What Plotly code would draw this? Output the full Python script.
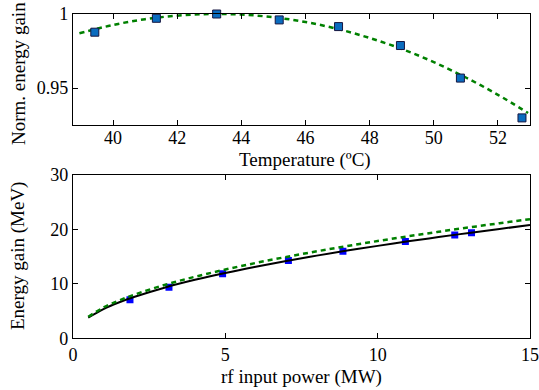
import plotly.graph_objects as go

# ---- top panel data ----
temp_pts = [39.43, 41.35, 43.23, 45.18, 47.03, 48.96, 50.83, 52.75]
gain_norm_pts = [0.9877, 0.9971, 1.0, 0.9960, 0.9915, 0.9787, 0.9567, 0.9298]
temp_fit = [38.95, 40, 41, 42, 43, 44, 45, 46, 47, 48, 49, 50, 51, 52, 52.94]
gain_norm_fit = [0.9870, 0.9926, 0.9965, 0.9989, 1.0, 0.9996, 0.9978, 0.9946,
                 0.9899, 0.9838, 0.9764, 0.9675, 0.9571, 0.9454, 0.9331]

# ---- bottom panel data ----
power_pts = [1.87, 3.15, 4.91, 7.07, 8.86, 10.91, 12.53, 13.08]
energy_pts = [7.09, 9.37, 11.85, 14.3, 16.0, 17.8, 19.0, 19.4]
power_fit = [0.5, 1, 1.5, 2, 3, 4, 5, 6, 7, 8, 9, 10, 11, 12, 13, 14, 15]
energy_fit_solid = [3.80, 5.37, 6.58, 7.59, 9.30, 10.74, 12.01, 13.15, 14.21,
                    15.19, 16.11, 16.98, 17.81, 18.60, 19.36, 20.09, 20.80]
energy_fit_dash = [3.95, 5.65, 6.92, 7.99, 9.79, 11.30, 12.63, 13.84, 14.95,
                   15.98, 16.95, 17.87, 18.74, 19.57, 20.37, 21.14, 21.88]

FONT = "Liberation Serif, Times New Roman, serif"
GREEN = "#008000"

fig = go.Figure()
fig.add_trace(go.Scatter(x=temp_fit, y=gain_norm_fit, mode="lines", line_shape="spline",
                         line=dict(color=GREEN, width=2.5, dash="5px,4px"),
                         xaxis="x", yaxis="y", showlegend=False))
fig.add_trace(go.Scatter(x=temp_pts, y=gain_norm_pts, mode="markers",
                         marker=dict(symbol="square", size=8, color="#0a6cbf",
                                     line=dict(color="#161640", width=1)),
                         cliponaxis=False, xaxis="x", yaxis="y", showlegend=False))

fig.add_trace(go.Scatter(x=power_pts, y=energy_pts, mode="markers",
                         marker=dict(symbol="square", size=7, color="#0000ff",
                                     line=dict(width=0)),
                         xaxis="x2", yaxis="y2", showlegend=False))
fig.add_trace(go.Scatter(x=power_fit, y=energy_fit_solid, mode="lines", line_shape="spline",
                         line=dict(color="black", width=2),
                         xaxis="x2", yaxis="y2", showlegend=False))
fig.add_trace(go.Scatter(x=power_fit, y=energy_fit_dash, mode="lines", line_shape="spline",
                         line=dict(color=GREEN, width=2.5, dash="5px,4px"),
                         xaxis="x2", yaxis="y2", showlegend=False))

W, H = 539, 390
xdom = [73 / W, 530 / W]
axis_common = dict(showline=True, linecolor="black", linewidth=1.2, mirror="allticks",
                   ticks="inside", ticklen=5, tickwidth=1, tickcolor="black",
                   showgrid=False, zeroline=False, automargin=False,
                   tickfont=dict(family=FONT, size=18, color="black"))

fig.update_layout(
    width=W, height=H, margin=dict(l=0, r=0, t=0, b=0),
    paper_bgcolor="white", plot_bgcolor="white",
    xaxis=dict(domain=xdom, range=[38.75, 53], tickvals=[40, 42, 44, 46, 48, 50, 52],
               anchor="y", ticklabelstandoff=-4, **axis_common),
    yaxis=dict(domain=[1 - 125 / H, 1 - 14 / H], range=[0.925, 1.0],
               tickvals=[0.95, 1.0], ticktext=["0.95", "1"], anchor="x", **axis_common),
    xaxis2=dict(domain=xdom, range=[0, 15], tickvals=[0, 5, 10, 15],
                anchor="y2", **axis_common),
    yaxis2=dict(domain=[1 - 338.3 / H, 1 - 175 / H], range=[0, 30],
                tickvals=[0, 10, 20, 30], anchor="x2", **axis_common),
    annotations=[
        dict(text="Temperature (ºC)", x=305 / W, y=1 - 160 / H, xref="paper", yref="paper",
             showarrow=False, xanchor="center", yanchor="middle",
             font=dict(family=FONT, size=19, color="black")),
        dict(text="Norm. energy gain", x=18 / W, y=1 - 74 / H, xref="paper", yref="paper",
             showarrow=False, xanchor="center", yanchor="middle", textangle=-90,
             font=dict(family=FONT, size=19, color="black")),
        dict(text="Energy gain (MeV)", x=18 / W, y=1 - 256 / H, xref="paper", yref="paper",
             showarrow=False, xanchor="center", yanchor="middle", textangle=-90,
             font=dict(family=FONT, size=19, color="black")),
        dict(text="rf input power (MW)", x=301.5 / W, y=1 - 377 / H, xref="paper", yref="paper",
             showarrow=False, xanchor="center", yanchor="middle",
             font=dict(family=FONT, size=19, color="black")),
    ],
)

fig.write_html("out.html")
